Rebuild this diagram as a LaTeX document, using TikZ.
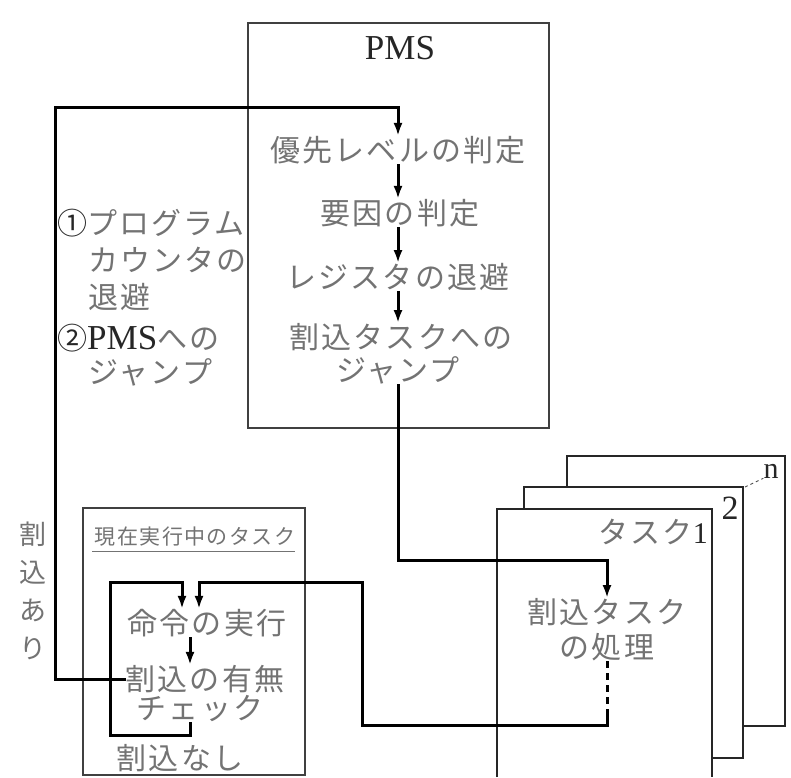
\documentclass[tikz,border=0pt]{standalone}
\usepackage{fontspec}
\setmainfont{Liberation Serif}
\newfontfamily\jp[LetterSpace=7]{Noto Sans CJK JP}
\usetikzlibrary{arrows.meta}
\tikzset{
  jt/.style={font=\jp\fontsize{30}{33}\selectfont, text=black!55, inner sep=0pt},
  jsmall/.style={font=\jp\fontsize{21}{24}\selectfont, text=black!55, inner sep=0pt},
  lat/.style={inner sep=0pt, text=black!85},
  conn/.style={line width=3pt, black},
  arr/.style={conn, -{Latex[length=13pt,width=9pt]}},
  box/.style={line width=1.5pt, black!75},
  tbox/.style={line width=1.8pt, black!85},
}
\newcommand{\jpc}[1]{{\jp\fontsize{30}{33}\selectfont\color{black!55}#1}}
\newcommand{\jpd}[1]{{\jp\fontsize{30}{33}\selectfont\color{black!85}#1}}
\begin{document}
\begin{tikzpicture}[x=1pt,y=-1pt]
\useasboundingbox[fill=white] (0,0) rectangle (791,777);

% ---------- task boxes (stacked) ----------
\filldraw[tbox, fill=white] (567,456) rectangle (785,726);
\filldraw[tbox, fill=white] (524,487) rectangle (743,758);
\fill[white] (497,509) rectangle (712,777);
\draw[tbox] (497,777) -- (497,509) -- (712,509) -- (712,777);

\node[lat, font=\fontsize{30}{32}\selectfont] (tn) at (771,471) {n};
\node[lat, font=\fontsize{34}{36}\selectfont] (t2n) at (730,508) {2};
\draw[black!70, line width=0.9pt, dashed] (745,487) -- (tn.south west);
\node[lat, anchor=east] (tk1) at (708,532) {\jpc{タスク}{\fontsize{30}{32}\selectfont 1}};

\node[jt] (t1) at (607,612) {割込タスク};
\node[jt] (t2) at (607,647) {の処理};

% ---------- PMS box ----------
\draw[box] (248,23) rectangle (549,428);
\node[lat, font=\fontsize{35}{40}\selectfont] (pmst) at (400,48) {PMS};
\node[jt] (j1) at (398,150) {優先レベルの判定};
\node[jt] (j2) at (400,213) {要因の判定};
\node[jt] (j3) at (398,277) {レジスタの退避};
\node[jt] (j4) at (401,337) {割込タスクへの};
\node[jt] (j5) at (398,370) {ジャンプ};

% ---------- left explanation ----------
\node[lat, anchor=west] (l1) at (57,223) {\jpd{①}\jpc{プログラム}};
\node[jt, anchor=west] (l2) at (88,260) {カウンタの};
\node[jt, anchor=west] (l3) at (88,297) {退避};
\node[lat, anchor=west] (l4) at (57,338) {\jpd{②}{\fontsize{35}{40}\selectfont PMS}\jpc{への}};
\node[jt, anchor=west] (l5) at (88,372) {ジャンプ};

\node[jt, align=center, font=\jp\fontsize{27}{38}\selectfont] (ari) at (33,591) {割\\込\\あ\\り};

% ---------- current task box ----------
\draw[box] (83,508) rectangle (305,775);
\node[jsmall] (cur) at (195,537) {現在実行中のタスク};
\draw[black!55, line width=1pt] (92,551) -- (295,551);
\node[jt] (e1) at (207,623) {命令の実行};
\node[jt] (c1) at (205,679) {割込の有無};
\node[jt] (c2) at (200,709) {チェック};
\node[jt] (nashi) at (180,758) {割込なし};

% ---------- helper coordinates ----------
\coordinate (ka) at (190,0);
\coordinate (kb) at (182,0);
\coordinate (kc) at (199,0);
\coordinate (L1) at (55,107);
\coordinate (B1) at (110,735);
\coordinate (T1) at (110,582);
\coordinate (P1) at (398,560);
\coordinate (R1) at (607,725);
\coordinate (R0) at (607,712);
\coordinate (R2) at (362,582);

% ---------- connectors ----------
\draw[arr] (j1) -- (j2.north -| j1);
\draw[arr] (j2.south -| j1) -- (j3.north -| j1);
\draw[arr] (j3.south -| j1) -- (j4.north -| j1);

\draw[arr] (c1.west) -| (L1) -| (j1.north);
\draw[arr] (j5.south) -- (P1) -| (t1.north);

\draw[arr] (e1.south -| ka) -- (c1.north -| ka);
\draw[arr] (c2.south -| ka) -- (ka |- B1) -- (B1) -- (T1) -- (T1 -| kb) -- (e1.north -| kb);

\draw[conn, dashed, dash pattern=on 7pt off 5pt] (t2.south -| R1) -- (R0);
\draw[arr] (R0) -- (R1) -| (R2) -- (R2 -| kc) -- (e1.north -| kc);
\end{tikzpicture}
\end{document}
